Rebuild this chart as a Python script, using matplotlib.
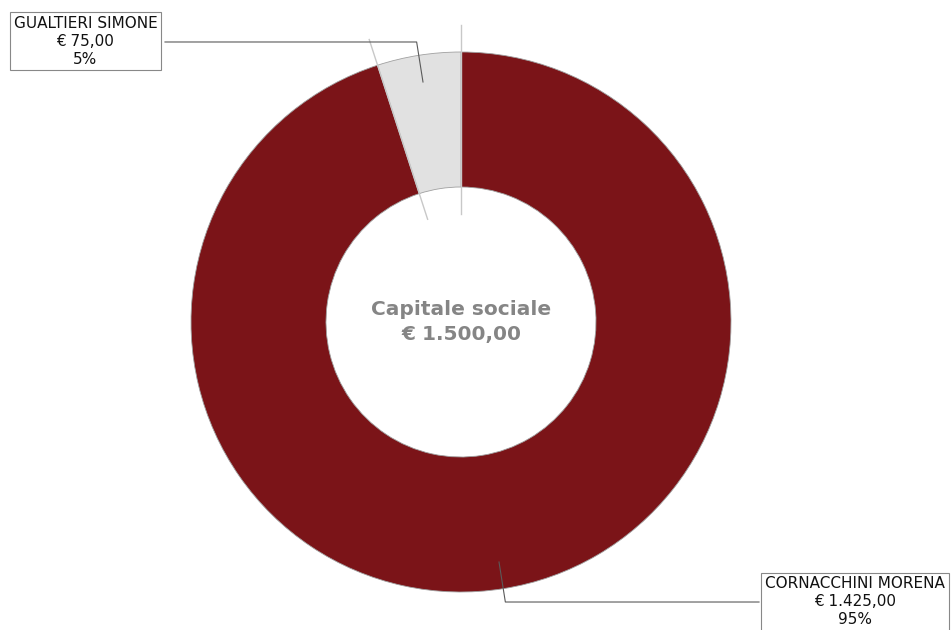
import numpy as np
import matplotlib.pyplot as plt

soci = ['CORNACCHINI MORENA', 'GUALTIERI SIMONE']
quote = [1425.00, 75.00]
importi = ['€ 1.425,00', '€ 75,00']
percentuali = ['95%', '5%']
colori = ['#7b1418', '#e1e1e1']
titolo_centro = 'Capitale sociale\n€ 1.500,00'

W, H = 952, 630
cx, cy = 461, H - 322
R = 270

fig = plt.figure(figsize=(W / 100, H / 100), dpi=100)
ax = fig.add_axes([0, 0, 1, 1])

wedges, _ = ax.pie(quote, colors=colori, startangle=90, counterclock=False,
                   center=(cx, cy), radius=R,
                   wedgeprops=dict(width=R * 0.5, edgecolor='#a0a0a0', linewidth=0.6))
ax.set_xlim(0, W)
ax.set_ylim(0, H)
ax.set_aspect('equal')
ax.axis('off')

# linee radiali ai confini delle fette
angoli = sorted(set(round(a % 360, 6) for w in wedges for a in (w.theta1, w.theta2)))
for a in angoli:
    t = np.deg2rad(a)
    ax.plot([cx + 0.4 * R * np.cos(t), cx + 1.1 * R * np.cos(t)],
            [cy + 0.4 * R * np.sin(t), cy + 1.1 * R * np.sin(t)],
            color='#c8c8c8', lw=1, zorder=3)

# etichette con linee guida
box_pos = {0: (855, H - 602, 759), 1: (85.5, H - 41, 165)}
for i, w in enumerate(wedges):
    mid = np.deg2rad((w.theta1 + w.theta2) / 2)
    x0, y0 = cx + 0.9 * R * np.cos(mid), cy + 0.9 * R * np.sin(mid)
    x1, y1 = cx + 1.05 * R * np.cos(mid), cy + 1.05 * R * np.sin(mid)
    tx, ty, xe = box_pos[i]
    ax.plot([x0, x1, xe], [y0, y1, y1], color='#5a5a5a', lw=0.8, zorder=4)
    ax.text(tx, ty, f'{soci[i]}\n{importi[i]}\n{percentuali[i]}',
            ha='center', va='center', fontsize=11, linespacing=1.25, color='#111111',
            bbox=dict(boxstyle='square,pad=0.25', fc='white', ec='#888888', lw=0.8),
            zorder=5)

ax.text(cx, cy, titolo_centro, ha='center', va='center', fontsize=14.5,
        fontweight='bold', color='#858585', linespacing=1.35)

fig.savefig('out.png', dpi=100)
